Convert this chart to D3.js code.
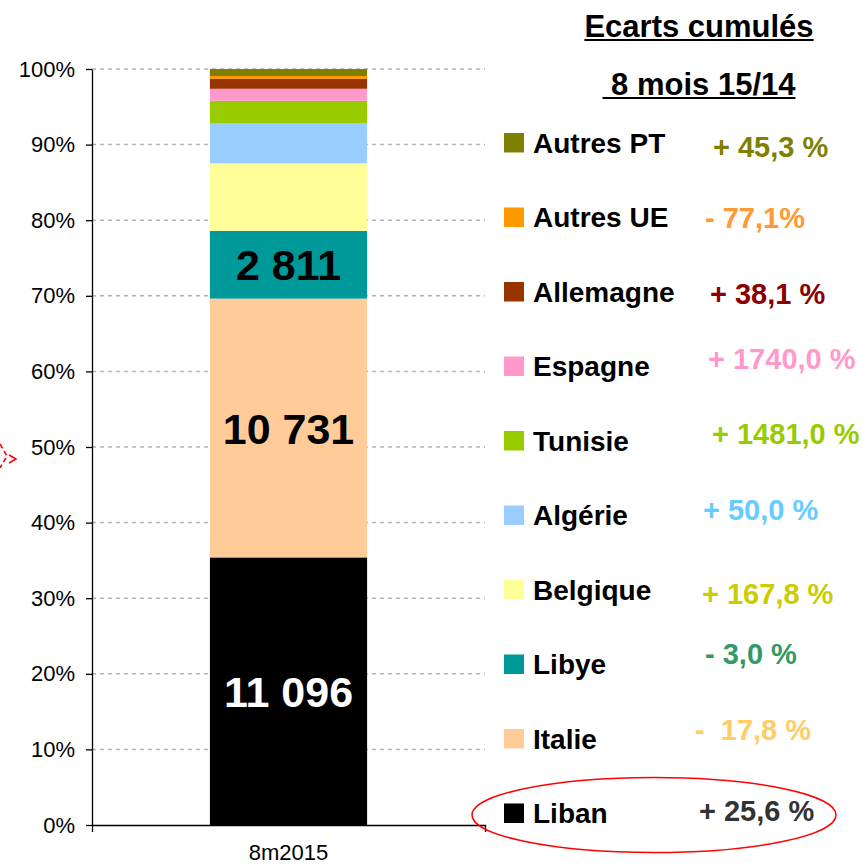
<!DOCTYPE html>
<html>
<head>
<meta charset="utf-8">
<script src="https://cdn.jsdelivr.net/npm/d3@7"></script>
<style>
  body { margin: 0; background: #fff; }
  svg { display: block; font-family: "Liberation Sans", Arial, sans-serif; }
  .yaxis text, .xaxis text { font-size: 22px; fill: #000; }
  .yaxis path, .yaxis line, .xaxis path, .xaxis line { stroke: #000; stroke-width: 1.3; }
</style>
</head>
<body>
<script>
// data, bottom of the stack first
var period     = ["8m2015"];
var countries  = ["Liban", "Italie", "Libye", "Belgique", "Algérie", "Tunisie", "Espagne", "Allemagne", "Autres UE", "Autres PT"];
var values     = [11096, 10731, 2811, 2800, 1650, 940, 500, 410, 120, 290];
var fills      = ["#000000", "#ffcc99", "#009999", "#ffff99", "#99ccff", "#99cc00", "#ff99cc", "#993300", "#ff9900", "#808000"];
var ecarts     = ["+ 25,6 %", "-  17,8 %", "- 3,0 %", "+ 167,8 %", "+ 50,0 %", "+ 1481,0 %", "+ 1740,0 %", "+ 38,1 %", "- 77,1%", "+ 45,3 %"];
var ecartFills = ["#333333", "#ffcc66", "#339966", "#cccc00", "#66ccff", "#99cc00", "#ff99cc", "#8b0000", "#ff9933", "#808000"];
var labelled   = ["Liban", "Italie", "Libye"];
var yTicks     = [0, 0.1, 0.2, 0.3, 0.4, 0.5, 0.6, 0.7, 0.8, 0.9, 1];
var titles     = ["Ecarts cumulés", "\u00a08 mois 15/14"];

// where each "ecart" sits (x, baseline offset below its legend square)
var ecartPos = [[699, 17], [695, 11], [705, 9], [702, 24], [703, 14], [712, 13], [708, 12], [710, 22], [705, 20], [713, 24]];

var W = 863, H = 866;
var plot = { left: 92, right: 485, top: 69, bottom: 825 };

var svg = d3.select("body").append("svg")
	.attr("width", W)
	.attr("height", H);

var total = d3.sum(values);
var fr = d3.formatLocale({ decimal: ",", thousands: " ", grouping: [3], currency: ["", " €"] });
var fmt = fr.format(",d");

// stacked shares
var rows = [];
var acc = 0;
countries.forEach(function(c, i){
	rows.push({ name: c, v: values[i], y0: acc / total, y1: (acc + values[i]) / total, fill: fills[i], i: i });
	acc += values[i];
});

var x = d3.scaleBand().domain(period).range([plot.left, plot.right]).paddingInner(0.6).paddingOuter(0.3);
var y = d3.scaleLinear().domain([0, 1]).range([plot.bottom, plot.top]);

// gridlines
svg.append("g").selectAll("line")
	.data(yTicks.filter(function(d){ return d > 0; }))
	.enter().append("line")
	.attr("x1", plot.left)
	.attr("x2", plot.right)
	.attr("y1", function(d){ return y(d); })
	.attr("y2", function(d){ return y(d); })
	.attr("stroke", "#b3b3b3")
	.attr("stroke-width", 1.5)
	.attr("stroke-dasharray", "4,4");

// bar segments
svg.append("g").selectAll("rect")
	.data(rows)
	.enter().append("rect")
	.attr("x", x(period[0]))
	.attr("width", x.bandwidth())
	.attr("y", function(d){ return y(d.y1); })
	.attr("height", function(d){ return y(d.y0) - y(d.y1); })
	.attr("fill", function(d){ return d.fill; });

// value labels in the bar
svg.append("g").selectAll("text")
	.data(rows.filter(function(d){ return labelled.indexOf(d.name) >= 0; }))
	.enter().append("text")
	.attr("x", x(period[0]) + x.bandwidth() / 2)
	.attr("y", function(d){ return (y(d.y0) + y(d.y1)) / 2 + 15.5; })
	.attr("text-anchor", "middle")
	.attr("font-size", 43)
	.attr("font-weight", "bold")
	.attr("fill", function(d){ return d.fill == "#000000" ? "#fff" : "#000"; })
	.text(function(d){ return fmt(d.v); });

// axes
svg.append("g")
	.attr("class", "yaxis")
	.attr("transform", "translate(" + plot.left + ",0)")
	.call(d3.axisLeft(y).tickValues(yTicks).tickFormat(d3.format(".0%")).tickSizeInner(6).tickSizeOuter(0).tickPadding(11));

svg.append("g")
	.attr("class", "xaxis")
	.attr("transform", "translate(0," + plot.bottom + ")")
	.call(d3.axisBottom(x).tickSizeInner(0).tickSizeOuter(7).tickPadding(20));

d3.selectAll("g.xaxis g.tick text").attr("dy", "0.71em").attr("y", 19);

// legend title, underlined
var tg = svg.append("g");
titles.forEach(function(t, i){
	var tx = tg.append("text")
		.attr("x", 699)
		.attr("y", 37 + i * 58)
		.attr("text-anchor", "middle")
		.attr("font-size", 31)
		.attr("font-weight", "bold")
		.text(t);
	var w = tx.node().getComputedTextLength();
	tg.append("line")
		.attr("x1", 699 - w / 2)
		.attr("x2", 699 + w / 2)
		.attr("y1", 40 + i * 58)
		.attr("y2", 40 + i * 58)
		.attr("stroke", "#000")
		.attr("stroke-width", 2.2);
});

// legend, top entry = top of stack
var legendRows = rows.slice().reverse();
var lg = svg.append("g").selectAll("g")
	.data(legendRows)
	.enter().append("g")
	.attr("transform", function(d, k){ return "translate(0," + (133 + k * 74.5) + ")"; });

lg.append("rect")
	.attr("x", 504)
	.attr("width", 20)
	.attr("height", 19.5)
	.attr("fill", function(d){ return d.fill; });

lg.append("text")
	.attr("x", 533)
	.attr("y", 19.5)
	.attr("font-size", 28)
	.attr("font-weight", "bold")
	.text(function(d){ return d.name; });

lg.append("text")
	.attr("x", function(d){ return ecartPos[d.i][0]; })
	.attr("y", function(d){ return ecartPos[d.i][1]; })
	.attr("font-size", 29)
	.attr("font-weight", "bold")
	.attr("fill", function(d){ return ecartFills[d.i]; })
	.attr("xml:space", "preserve")
	.style("white-space", "pre")
	.text(function(d){ return ecarts[d.i]; });

// red ring round Liban
svg.append("ellipse")
	.attr("cx", 654)
	.attr("cy", 815)
	.attr("rx", 182)
	.attr("ry", 37.5)
	.attr("fill", "none")
	.attr("stroke", "#ff0000")
	.attr("stroke-width", 1.5);

// cut-off dashed callout at the left edge
svg.append("path")
	.attr("d", "M0,444 L7,456 L0,468")
	.attr("fill", "none")
	.attr("stroke", "#ff0000")
	.attr("stroke-width", 1.6)
	.attr("stroke-dasharray", "5,3");
svg.append("path")
	.attr("d", "M9,455 L16,459 L9,463")
	.attr("fill", "none")
	.attr("stroke", "#ff0000")
	.attr("stroke-width", 1.6);
</script>
</body>
</html>
